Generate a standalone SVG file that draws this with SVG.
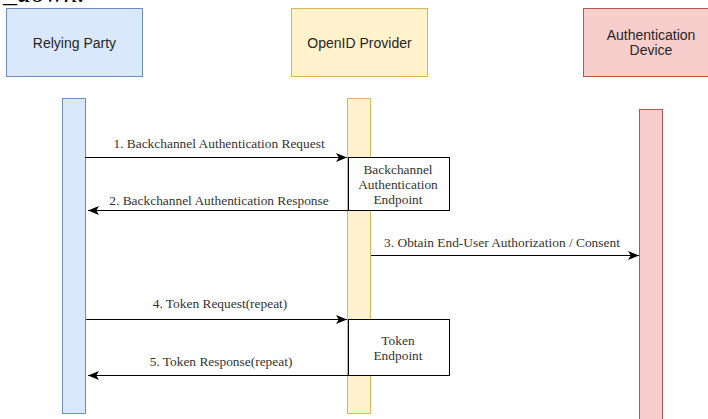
<svg xmlns="http://www.w3.org/2000/svg" width="708" height="419" viewBox="0 0 708 419">
  <style>
    .head { font-family: "Liberation Sans", Arial, sans-serif; font-size: 14px; fill: #262626; text-anchor: middle; }
    .lbl { font-family: "Liberation Serif", "Times New Roman", serif; font-size: 13.4px; fill: #333333; text-anchor: middle; }
    .rp { fill: #dae8fc; stroke: #6c8ebf; stroke-width: 1; }
    .op { fill: #fff2cc; stroke: #d6b656; stroke-width: 1; }
    .ad { fill: #f8cecc; stroke: #b85450; stroke-width: 1; }
    .ep { fill: #ffffff; stroke: #000000; stroke-width: 1; }
    .msg { fill: none; stroke: #000000; stroke-width: 1; }
  </style>
  <defs>
    <marker id="arrow" viewBox="0 0 10 10" refX="10" refY="5" markerWidth="11" markerHeight="11" markerUnits="userSpaceOnUse" orient="auto">
      <path d="M0,1 L10,5 L0,9 L2.5,5 Z" fill="#000000"/>
    </marker>
  </defs>
  <rect width="708" height="419" fill="#ffffff"/>

  <!-- caption fragment running off the top edge -->
  <text x="3" y="2" font-family="Liberation Serif, serif" font-style="italic" font-size="28" fill="#000000">_down.</text>

  <g id="relying-party">
    <rect class="rp" x="6.5" y="8.5" width="136" height="68"/>
    <text class="head" x="74.5" y="47.5">Relying Party</text>
    <rect class="rp" x="62.5" y="98.5" width="23" height="315"/>
  </g>

  <g id="openid-provider">
    <rect class="op" x="291.5" y="8.5" width="136" height="68"/>
    <text class="head" x="359.5" y="47.5">OpenID Provider</text>
    <rect class="op" x="347.5" y="98.5" width="23" height="315"/>
  </g>

  <g id="authentication-device">
    <rect class="ad" x="583.5" y="8.5" width="136" height="68"/>
    <text class="head" x="651" y="40">Authentication</text>
    <text class="head" x="651" y="55">Device</text>
    <rect class="ad" x="639.5" y="109.5" width="23" height="320"/>
  </g>

  <g id="backchannel-endpoint">
    <rect class="ep" x="348.5" y="157.5" width="101" height="53"/>
    <text class="lbl" x="398" y="174">Backchannel</text>
    <text class="lbl" x="398" y="189">Authentication</text>
    <text class="lbl" x="398" y="204">Endpoint</text>
  </g>

  <g id="token-endpoint">
    <rect class="ep" x="348.5" y="319.5" width="101" height="56"/>
    <text class="lbl" x="398" y="345">Token</text>
    <text class="lbl" x="398" y="360">Endpoint</text>
  </g>

  <g id="connectors">
    <line class="msg" x1="85" y1="157.5" x2="347" y2="157.5" marker-end="url(#arrow)"/>
    <text class="lbl" x="219" y="148">1. Backchannel Authentication Request</text>

    <line class="msg" x1="348" y1="210.5" x2="88" y2="210.5" marker-end="url(#arrow)"/>
    <text class="lbl" x="219" y="205">2. Backchannel Authentication Response</text>

    <line class="msg" x1="371" y1="255.5" x2="639" y2="255.5" marker-end="url(#arrow)"/>
    <text class="lbl" x="502" y="247">3. Obtain End-User Authorization / Consent</text>

    <line class="msg" x1="86" y1="319.5" x2="347" y2="319.5" marker-end="url(#arrow)"/>
    <text class="lbl" x="220" y="308">4. Token Request(repeat)</text>

    <line class="msg" x1="348" y1="375.5" x2="88" y2="375.5" marker-end="url(#arrow)"/>
    <text class="lbl" x="221" y="366">5. Token Response(repeat)</text>
  </g>
</svg>
